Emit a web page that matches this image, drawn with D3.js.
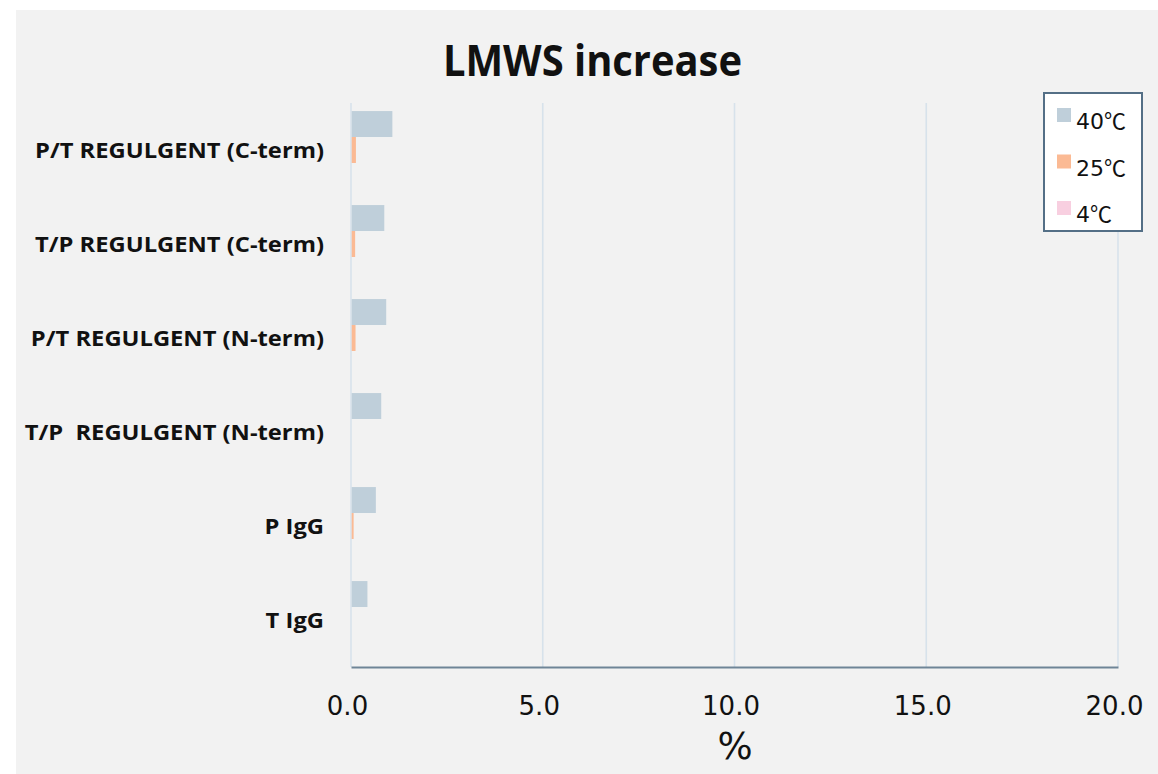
<!DOCTYPE html>
<html>
<head>
<meta charset="utf-8">
<script src="https://cdn.jsdelivr.net/npm/d3@7"></script>
<style>
  body { margin: 0; background: #ffffff; }
  svg { display: block; }
</style>
</head>
<body>
<div id="canvas"></div>
<script>
"use strict";

/* === Data === */
let categories = [
  "P/T REGULGENT (C-term)",
  "T/P REGULGENT (C-term)",
  "P/T REGULGENT (N-term)",
  "T/P  REGULGENT (N-term)",
  "P IgG",
  "T IgG"
];
let seriesNames = ["40℃", "25℃", "4℃"];
let values40 = [1.06, 0.85, 0.90, 0.77, 0.63, 0.41];
let values25 = [0.11, 0.09, 0.10, 0.00, 0.05, 0.00];
let values4 = [0, 0, 0, 0, 0, 0];
let xTicks = [0, 5, 10, 15, 20];

let svgWidth = 1158;
let svgHeight = 774;
let plot = { left: 351, right: 1118, top: 103, bottom: 667 };

let seriesColors = d3.scaleOrdinal()
  .domain(seriesNames)
  .range(["#bfcfda", "#fbba94", "#f8cfe0"]);

// build rows for the bars
let seriesValues = [values40, values25, values4];
let rows = [];
categories.forEach((c, i) => {
  seriesNames.forEach((s, j) => {
    rows.push({ category: c, series: s, value: seriesValues[j][i] });
  });
});

/* === Scales === */
let xScale = d3.scaleLinear()
  .domain([0, 20])
  .range([plot.left, plot.right]);

let yScale = d3.scaleBand()
  .domain(categories)
  .range([plot.top, plot.bottom])
  .paddingInner(0)
  .paddingOuter(0);

let ySub = d3.scaleBand()
  .domain(seriesNames)
  .range([0, yScale.bandwidth()])
  .paddingInner(0)
  .paddingOuter(0.31);

/* === SVG === */
let svg = d3.select("#canvas")
  .append("svg")
  .attr("width", svgWidth)
  .attr("height", svgHeight);

// grey chart panel
svg.append("rect")
  .attr("x", 16)
  .attr("y", 10)
  .attr("width", svgWidth - 16)
  .attr("height", svgHeight - 10)
  .attr("fill", "#f2f2f2");

/* === Gridlines === */
svg.append("g")
  .selectAll("line")
  .data(xTicks)
  .enter()
  .append("line")
  .attr("x1", d => xScale(d))
  .attr("x2", d => xScale(d))
  .attr("y1", plot.top)
  .attr("y2", plot.bottom)
  .attr("stroke", "#d7e2eb")
  .attr("stroke-width", 1.6);

/* === Bars === */
svg.append("g")
  .selectAll("rect")
  .data(rows)
  .enter()
  .append("rect")
  .attr("x", xScale(0) + 0.7)
  .attr("y", d => yScale(d.category) + ySub(d.series))
  .attr("width", d => Math.max(0, xScale(d.value) - xScale(0)))
  .attr("height", ySub.bandwidth())
  .attr("fill", d => seriesColors(d.series));

/* === X axis === */
let xAxis = svg.append("g")
  .attr("transform", `translate(0, ${plot.bottom})`)
  .call(d3.axisBottom(xScale).tickValues(xTicks).tickSize(0).tickFormat(d3.format(".1f")));

xAxis.select(".domain")
  .attr("stroke", "#6f8597")
  .attr("stroke-width", 2);

xAxis.selectAll("text")
  .attr("font-family", "DejaVu Sans")
  .attr("font-size", "26px")
  .attr("fill", "#111")
  .attr("dy", 0)
  .attr("y", 48)
  .attr("x", -4);

/* === Y labels === */
let labelGroup = svg.append("g");
let yLabels = labelGroup.selectAll("text")
  .data(categories)
  .enter()
  .append("text")
  .attr("x", 324)
  .attr("y", d => yScale(d) + yScale.bandwidth() / 2 + 8)
  .attr("text-anchor", "end")
  .attr("font-family", "Open Sans")
  .attr("font-weight", "bold")
  .attr("font-size", "22px")
  .attr("fill", "#111")
  .style("white-space", "pre")
  .text(d => d);

// squeeze the labels a bit so they look like the original narrow font
let firstLen = yLabels.node().getComputedTextLength();
let squeeze = 289 / firstLen;
yLabels.each(function () {
  let len = this.getComputedTextLength();
  d3.select(this)
    .attr("textLength", len * squeeze)
    .attr("lengthAdjust", "spacingAndGlyphs");
});

/* === Title & axis label === */
let title = svg.append("text")
  .attr("x", 592.5)
  .attr("y", 76)
  .attr("text-anchor", "middle")
  .attr("font-family", "Open Sans")
  .attr("font-weight", "bold")
  .attr("font-size", "43px")
  .attr("fill", "#111")
  .text("LMWS increase");
title.attr("textLength", 299).attr("lengthAdjust", "spacingAndGlyphs");

svg.append("text")
  .attr("x", 735)
  .attr("y", 759)
  .attr("text-anchor", "middle")
  .attr("font-family", "DejaVu Sans")
  .attr("font-size", "37px")
  .attr("fill", "#111")
  .text("%");

/* === Legend === */
let legend = svg.append("g")
  .attr("transform", "translate(1044, 93)");

legend.append("rect")
  .attr("width", 98)
  .attr("height", 138)
  .attr("fill", "#ffffff")
  .attr("stroke", "#546f86")
  .attr("stroke-width", 2);

seriesNames.forEach((s, i) => {
  legend.append("rect")
    .attr("x", 13)
    .attr("y", 15 + i * 46.5)
    .attr("width", 14)
    .attr("height", 14)
    .attr("fill", seriesColors(s));

  // number in DejaVu, the degree sign in a CJK font (full width like the original)
  let t = legend.append("text")
    .attr("x", 32)
    .attr("y", 36 + i * 46.5)
    .attr("font-family", "DejaVu Sans")
    .attr("font-size", "22px")
    .attr("fill", "#111");
  t.append("tspan").text(s.replace("℃", ""));
  t.append("tspan").attr("font-family", "Noto Sans CJK JP").text("℃");
});
</script>
</body>
</html>
